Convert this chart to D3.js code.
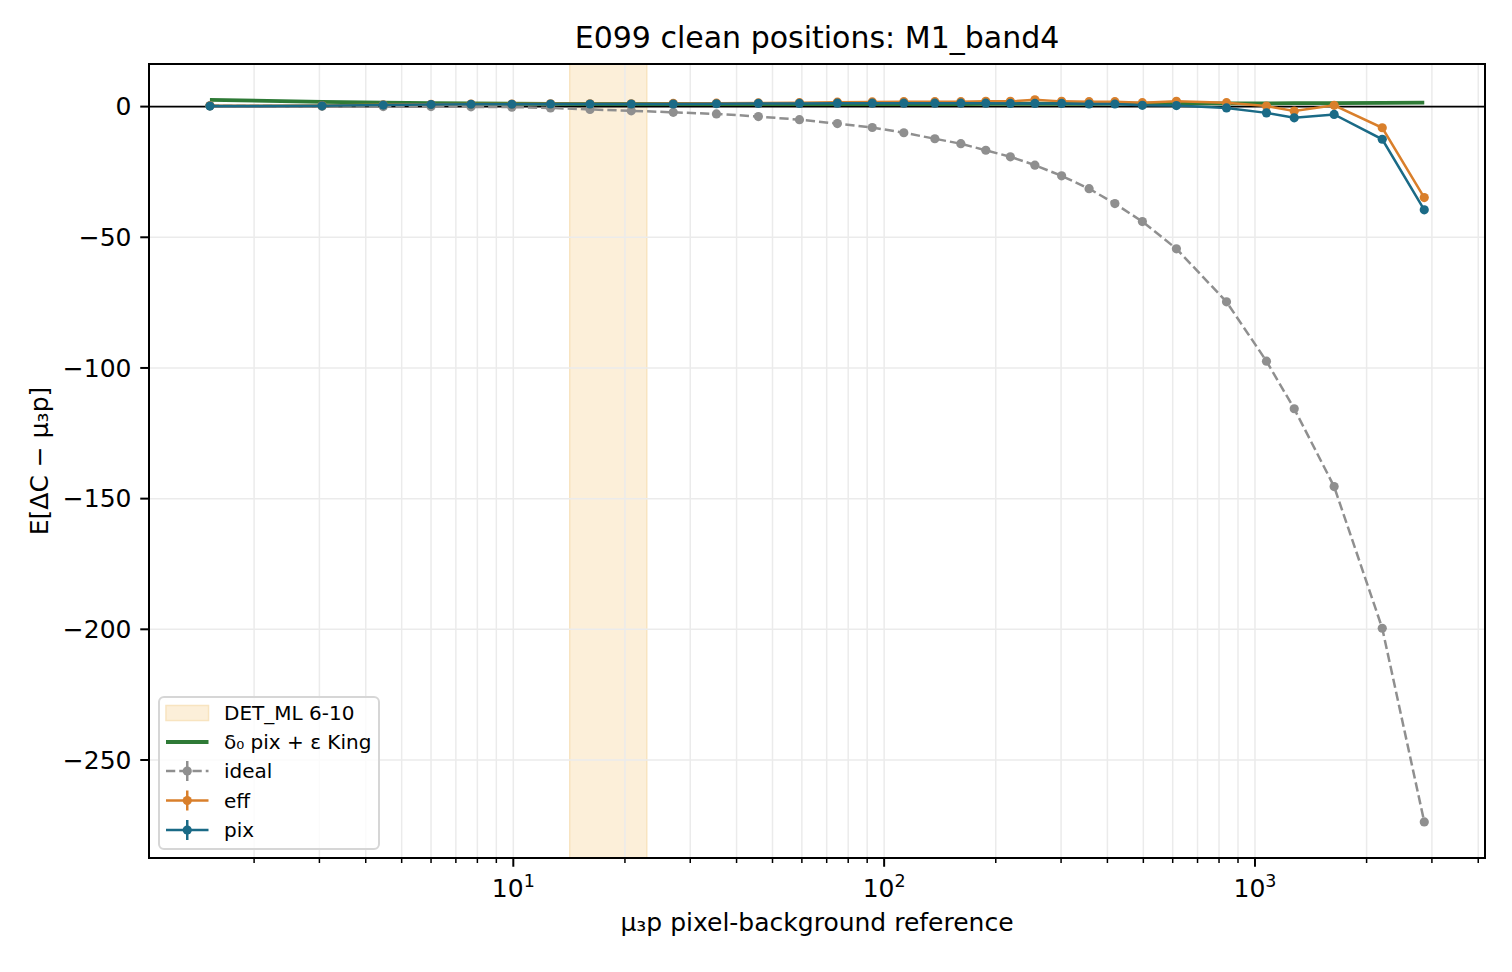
<!DOCTYPE html>
<html>
<head>
<meta charset="utf-8">
<script src="https://cdn.jsdelivr.net/npm/d3@7"></script>
<style>
  html, body { margin: 0; padding: 0; background: #fff; }
  svg { display: block; font-family: "DejaVu Sans", sans-serif; }
</style>
</head>
<body>
<svg id="chart" width="1512" height="972"></svg>
<script>
// ---- data ----
const mu = [1.52, 3.05, 4.46, 6.00, 7.69, 9.91, 12.6, 16.1, 20.8, 27.0, 35.3, 45.8, 59.1, 74.8, 92.9,
            113, 137, 161, 188, 219, 255, 301, 357, 419, 497, 614, 838, 1074, 1276, 1635, 2204, 2861];
const ideal = [0.3, 0.1, 0.0, 0.0, -0.1, -0.2, -0.5, -1.1, -1.6, -2.2, -2.8, -3.8, -5.0, -6.5, -8.0,
               -10.0, -12.3, -14.2, -16.7, -19.2, -22.4, -26.5, -31.4, -37.1, -44.0, -54.4, -74.7,
               -97.4, -115.6, -145.4, -199.6, -273.7];
const eff = [0.3, 0.4, 0.7, 0.9, 1.0, 1.0, 1.1, 1.1, 1.1, 1.2, 1.3, 1.4, 1.5, 1.7, 1.8,
             1.9, 1.9, 1.9, 2.0, 2.0, 2.6, 2.0, 1.9, 1.9, 1.5, 2.0, 1.5, 0.2, -1.7, 0.5, -8.1, -34.8];
const pix = [0.2, 0.3, 0.6, 0.8, 0.9, 0.9, 1.0, 1.0, 1.0, 1.0, 1.1, 1.2, 1.2, 1.3, 1.3,
             1.3, 1.3, 1.3, 1.3, 1.2, 1.2, 1.2, 1.0, 1.0, 0.5, 0.4, -0.5, -2.4, -4.3, -3.0, -12.5, -39.5];
const model = [2.6, 1.8, 1.5, 1.3, 1.2, 1.1, 1.05, 1.0, 1.0, 1.0, 1.0, 1.0, 1.0, 1.0, 1.0,
               1.0, 1.0, 1.0, 1.05, 1.1, 1.1, 1.1, 1.1, 1.15, 1.15, 1.2, 1.2, 1.25, 1.3, 1.3, 1.4, 1.5];
const band = [14.2, 22.9];
const yTicks = [0, -50, -100, -150, -200, -250];
const xMajor = [10, 100, 1000];
const title = "E099 clean positions: M1_band4";
const xLabel = "μ₃p pixel-background reference";
const yLabel = "E[ΔC − μ₃p]";
const legendLabels = ["DET_ML 6-10", "δ₀ pix + ε King", "ideal", "eff", "pix"];

// ---- layout ----
const L = 149, R = 1485, T = 64, B = 858;
const svg = d3.select("#chart");
const x = d3.scaleLog().domain([Math.pow(10, 0.0176), Math.pow(10, 3.6203)]).range([L, R]);
const y = d3.scaleLinear().domain([-287.5, 16.3]).range([B, T]);

const colors = { ideal: "#8f8f8f", eff: "#d97f2b", pix: "#1a6a86", model: "#2e7a36",
                 band: "#fcefd9", bandEdge: "#f8e4c0", grid: "#ebebeb" };

// minor tick values
const minor = [];
for (let d = 1; d <= 1000; d *= 10) for (let k = 2; k <= 9; k++) {
  const v = k * d; if (v > x.domain()[0] && v < x.domain()[1]) minor.push(v);
}

// band
svg.append("rect")
  .attr("x", x(band[0])).attr("y", T)
  .attr("width", x(band[1]) - x(band[0])).attr("height", B - T)
  .attr("fill", colors.band).attr("stroke", colors.bandEdge).attr("stroke-width", 1.5);

// grid
const grid = svg.append("g");
grid.selectAll("line.gx").data(xMajor.concat(minor)).enter().append("line")
  .attr("x1", d => x(d)).attr("x2", d => x(d)).attr("y1", T).attr("y2", B)
  .attr("stroke", colors.grid).attr("stroke-width", 1.5);
grid.selectAll("line.gy").data(yTicks).enter().append("line")
  .attr("x1", L).attr("x2", R).attr("y1", d => y(d)).attr("y2", d => y(d))
  .attr("stroke", colors.grid).attr("stroke-width", 1.5);

// zero line
svg.append("line").attr("x1", L).attr("x2", R).attr("y1", y(0)).attr("y2", y(0))
  .attr("stroke", "#000").attr("stroke-width", 1.6);

const line = d3.line().x(d => x(d[0])).y(d => y(d[1]));
const zip = arr => mu.map((m, i) => [m, arr[i]]);

// model line
svg.append("path").datum(zip(model)).attr("d", line)
  .attr("fill", "none").attr("stroke", colors.model).attr("stroke-width", 3.8);

function series(arr, color, dashed) {
  const g = svg.append("g");
  g.append("path").datum(zip(arr)).attr("d", line)
    .attr("fill", "none").attr("stroke", color).attr("stroke-width", 2.5)
    .attr("stroke-dasharray", dashed ? "9.25,4" : null);
  g.selectAll("circle").data(zip(arr)).enter().append("circle")
    .attr("cx", d => x(d[0])).attr("cy", d => y(d[1])).attr("r", 4.6)
    .attr("fill", color);
}
series(ideal, colors.ideal, true);
series(eff, colors.eff, false);
series(pix, colors.pix, false);

// frame
svg.append("rect").attr("x", L).attr("y", T).attr("width", R - L).attr("height", B - T)
  .attr("fill", "none").attr("stroke", "#000").attr("stroke-width", 2);

// x axis ticks
const ax = svg.append("g");
ax.selectAll("line.maj").data(xMajor).enter().append("line")
  .attr("x1", d => x(d)).attr("x2", d => x(d)).attr("y1", B).attr("y2", B + 8.75)
  .attr("stroke", "#000").attr("stroke-width", 2);
ax.selectAll("line.min").data(minor).enter().append("line")
  .attr("x1", d => x(d)).attr("x2", d => x(d)).attr("y1", B).attr("y2", B + 5)
  .attr("stroke", "#000").attr("stroke-width", 1.5);
const xt = ax.selectAll("text.xt").data(xMajor).enter().append("text")
  .attr("x", d => x(d)).attr("y", 897).attr("text-anchor", "middle")
  .attr("font-size", 25).attr("fill", "#000");
xt.append("tspan").text("10");
xt.append("tspan").attr("dy", -10).attr("font-size", 17.5).text(d => String(Math.round(Math.log10(d))));

// y axis ticks
const ay = svg.append("g");
ay.selectAll("line").data(yTicks).enter().append("line")
  .attr("x1", L - 8.75).attr("x2", L).attr("y1", d => y(d)).attr("y2", d => y(d))
  .attr("stroke", "#000").attr("stroke-width", 2);
ay.selectAll("text").data(yTicks).enter().append("text")
  .attr("x", L - 17.5).attr("y", d => y(d)).attr("dy", "0.35em")
  .attr("text-anchor", "end").attr("font-size", 25).attr("fill", "#000")
  .text(d => d < 0 ? "\u2212" + Math.abs(d) : String(d));

// labels
svg.append("text").attr("x", (L + R) / 2).attr("y", 48).attr("text-anchor", "middle")
  .attr("font-size", 30).attr("fill", "#000").text(title);
svg.append("text").attr("x", (L + R) / 2).attr("y", 931).attr("text-anchor", "middle")
  .attr("font-size", 25).attr("fill", "#000").text(xLabel);
svg.append("text").attr("transform", `translate(48, ${(T + B) / 2}) rotate(-90)`)
  .attr("text-anchor", "middle").attr("font-size", 25).attr("fill", "#000").text(yLabel);

// legend
const lg = svg.append("g");
lg.append("rect").attr("x", 159).attr("y", 697).attr("width", 220).attr("height", 152)
  .attr("rx", 5).attr("fill", "#fff").attr("fill-opacity", 0.8)
  .attr("stroke", "#d6d6d6").attr("stroke-width", 2);
const rowY = [713, 742, 771, 800.5, 830];
const hx0 = 166, hx1 = 208.5, hxm = (hx0 + hx1) / 2;
lg.append("rect").attr("x", hx0).attr("y", rowY[0] - 7.5).attr("width", hx1 - hx0).attr("height", 15)
  .attr("fill", colors.band).attr("stroke", colors.bandEdge).attr("stroke-width", 1.5);
lg.append("line").attr("x1", hx0).attr("x2", hx1).attr("y1", rowY[1]).attr("y2", rowY[1])
  .attr("stroke", colors.model).attr("stroke-width", 3.8);
[[colors.ideal, true], [colors.eff, false], [colors.pix, false]].forEach((c, i) => {
  const yy = rowY[i + 2];
  lg.append("line").attr("x1", hx0).attr("x2", hx1).attr("y1", yy).attr("y2", yy)
    .attr("stroke", c[0]).attr("stroke-width", 2.5).attr("stroke-dasharray", c[1] ? "9.25,4" : null);
  lg.append("line").attr("x1", hxm).attr("x2", hxm).attr("y1", yy - 10).attr("y2", yy + 10)
    .attr("stroke", c[0]).attr("stroke-width", 2.5);
  lg.append("circle").attr("cx", hxm).attr("cy", yy).attr("r", 4.6).attr("fill", c[0]);
});
lg.selectAll("text").data(legendLabels).enter().append("text")
  .attr("x", 224).attr("y", (d, i) => rowY[i]).attr("dy", "0.36em")
  .attr("font-size", 20).attr("fill", "#000").text(d => d);
</script>
</body>
</html>
